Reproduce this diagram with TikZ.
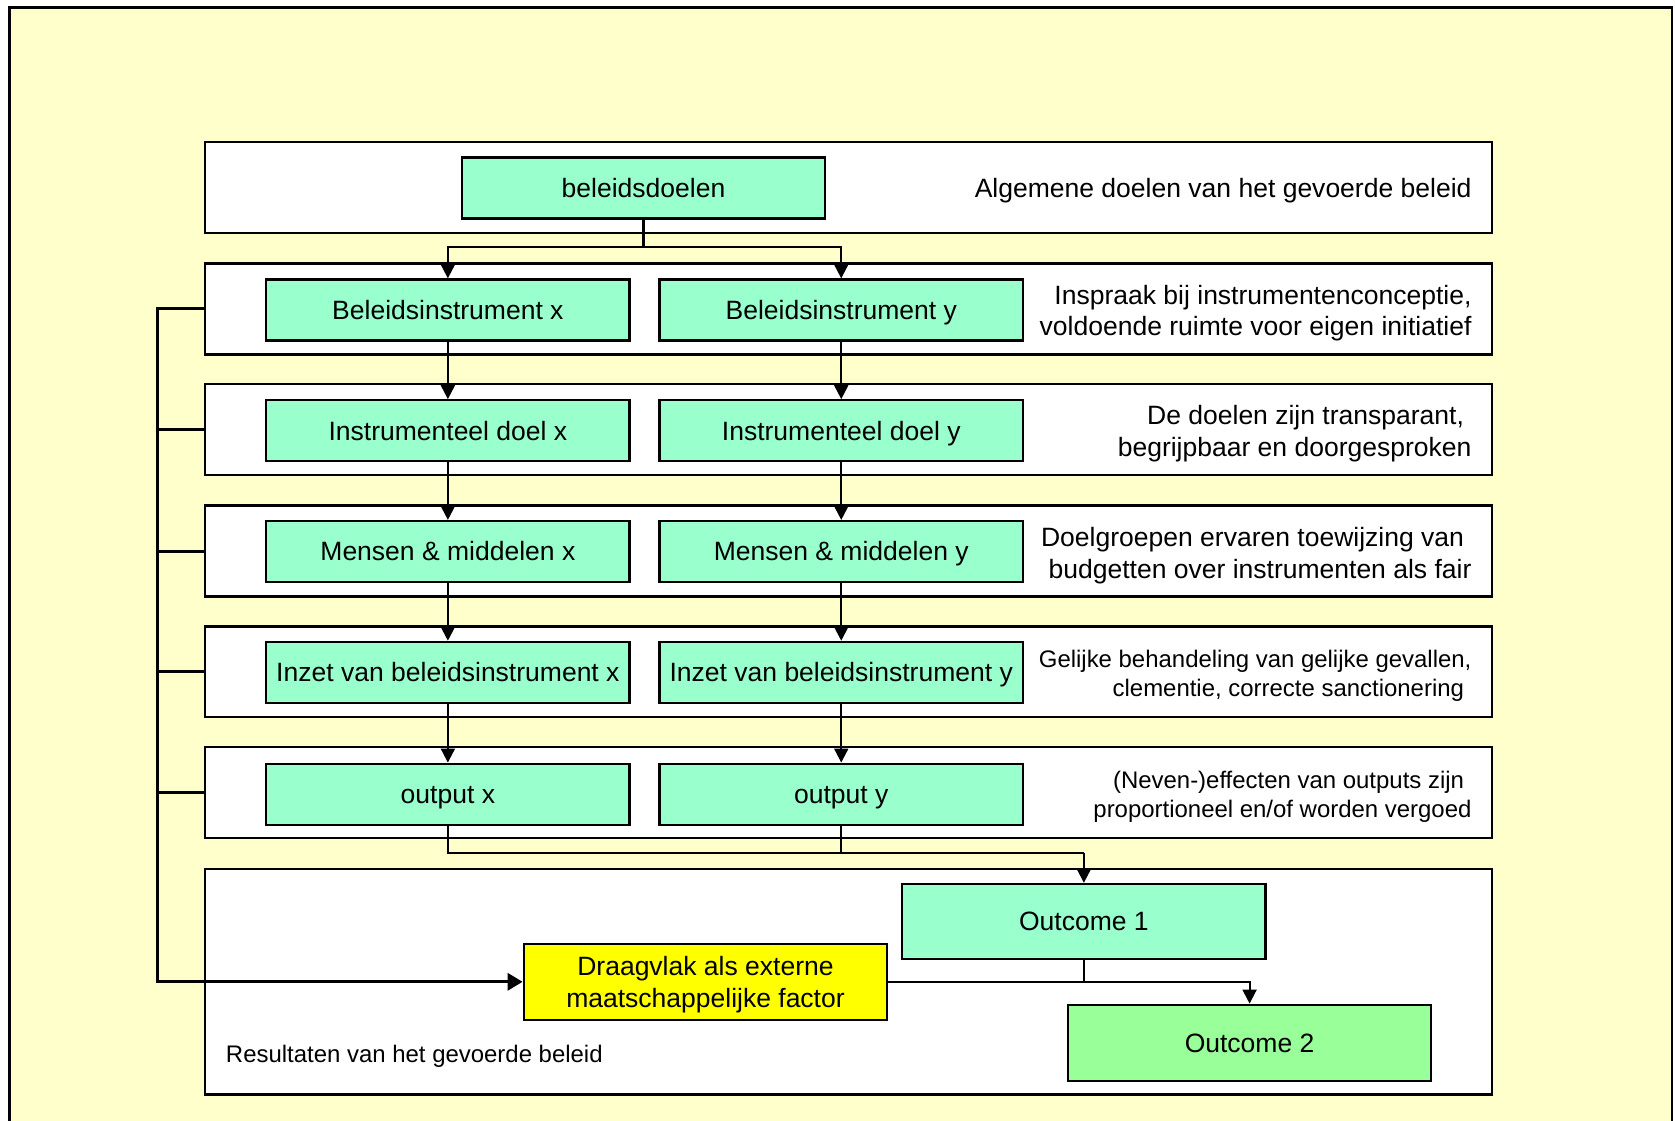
\documentclass[tikz,border=0pt]{standalone}
\usepackage{fontspec}
\setmainfont{Liberation Sans}
\usetikzlibrary{arrows.meta}
\definecolor{achter}{HTML}{FFFFCC}
\definecolor{groen}{HTML}{99FFCC}
\definecolor{lichtgroen}{HTML}{99FF99}
\definecolor{geel}{HTML}{FFFF00}

\begin{document}
\begin{tikzpicture}[x=0.5pt,y=-0.5pt,
		band/.style={draw,fill=white,line width=1.1pt,minimum width=602pt,minimum height=42.5pt,inner sep=0pt},
		blokbasis/.style={draw,fill=groen,line width=1.1pt,minimum width=170pt,minimum height=28.5pt,inner sep=0pt,font=\fontsize{12.4}{14.9}\selectfont},
		blok/.style={blokbasis,text height=1.06em,text depth=0.184em},
		uitleg/.style={anchor=east,align=right,inner sep=0pt,font=\fontsize{12.4}{14.9}\selectfont},
		uitlegklein/.style={uitleg,font=\fontsize{11.2}{13.4}\selectfont},
		lijn/.style={line width=0.95pt},
		pijl/.style={lijn,-{Triangle[width=6.5pt,length=6.5pt]}},
		terugpijl/.style={line width=1.4pt,-{Triangle[width=8pt,length=7pt]}}]
			\useasboundingbox (0,0) rectangle (1567,1048);
			\clip (0,0) rectangle (1567,1048);
			\filldraw[fill=achter,draw=black,line width=1.2pt] (9,7) rectangle (1564,1080);

			% banden
			\node[band] (band1) at (794,175.5) {};
			\foreach \i/\y in {2/289,3/402,4/515.5,5/628.5,6/741.5}
			\node[band] (band\i) at (794,\y) {};
			\node[band,minimum height=105.5pt] (band7) at (794,918.5) {};

			\node[blok] (doel) at (602,176) {beleidsdoelen};
			\node[blok] (bix) at (419,290) {Beleidsinstrument x};
			\node[blok] (biy) at (787,290) {Beleidsinstrument y};
			\node[blok] (idx) at (419,403) {Instrumenteel doel x};
			\node[blok] (idy) at (787,403) {Instrumenteel doel y};
			\node[blok] (mmx) at (419,516) {Mensen \& middelen x};
			\node[blok] (mmy) at (787,516) {Mensen \& middelen y};
			\node[blok] (izx) at (419,629) {Inzet van beleidsinstrument x};
			\node[blok] (izy) at (787,629) {Inzet van beleidsinstrument y};
			\node[blok] (outx) at (419,743) {output x};
			\node[blok] (outy) at (787,743) {output y};
			\node[blok,minimum height=35pt] (oc1) at (1014,862) {Outcome 1};
			\node[blokbasis,fill=geel,minimum height=35.5pt,align=center] (drg) at (660,918.5) {\rule{0pt}{12pt}Draagvlak als externe\\maatschappelijke factor};
			\node[blok,fill=lichtgroen,minimum height=35.5pt] (oc2) at (1169,975.5) {Outcome 2};

			\node[uitleg] (t1) at (1377,178) {Algemene doelen van het gevoerde beleid};
			\node[uitleg] (t2) at (1377,293) {Inspraak bij instrumentenconceptie,\\voldoende ruimte voor eigen initiatief};
			\node[uitleg] (t3) at (1377,406) {De doelen zijn transparant,\kern3.5pt\\begrijpbaar en doorgesproken};
			\node[uitleg] (t4) at (1377,520) {Doelgroepen ervaren toewijzing van\kern3.5pt\\budgetten over instrumenten als fair};
			\node[uitlegklein] (t5) at (1377,632) {Gelijke behandeling van gelijke gevallen,\\clementie, correcte sanctionering\kern3.5pt};
			\node[uitlegklein] (t6) at (1377,745.5) {(Neven-)effecten van outputs zijn\kern3.5pt\\proportioneel en/of worden vergoed};
			\node[uitlegklein,anchor=west] (t7) at (211,988) {Resultaten van het gevoerde beleid};

			\coordinate (split) at (602,231);
			\draw[lijn] (doel.south) -- (split);
			\draw[pijl] (split) -| (bix.north);
			\draw[pijl] (split) -| (biy.north);

			\foreach \a/\b in {bix/idx,idx/mmx,mmx/izx,izx/outx,biy/idy,idy/mmy,mmy/izy,izy/outy}
			\draw[pijl] (\a) -- (\b);

			\coordinate (samen) at (1014,798);
			\draw[lijn] (outx.south) |- (samen);
			\draw[lijn] (outy.south) |- (samen);
			\draw[pijl] (samen) -- (oc1.north);
			\draw[lijn] (oc1.south) -- (oc1.south |- drg.east);
			\draw[pijl] (drg.east) -| (oc2.north);

			% terugkoppeling
			\coordinate (terug) at (147,289);
			\draw[terugpijl] (band2.west) -- (terug) |- (drg.west);
			\foreach \i in {3,...,6}
			\draw[line width=1.4pt] (band\i.west) -- (band\i.west -| terug);
		\end{tikzpicture}
\end{document}
